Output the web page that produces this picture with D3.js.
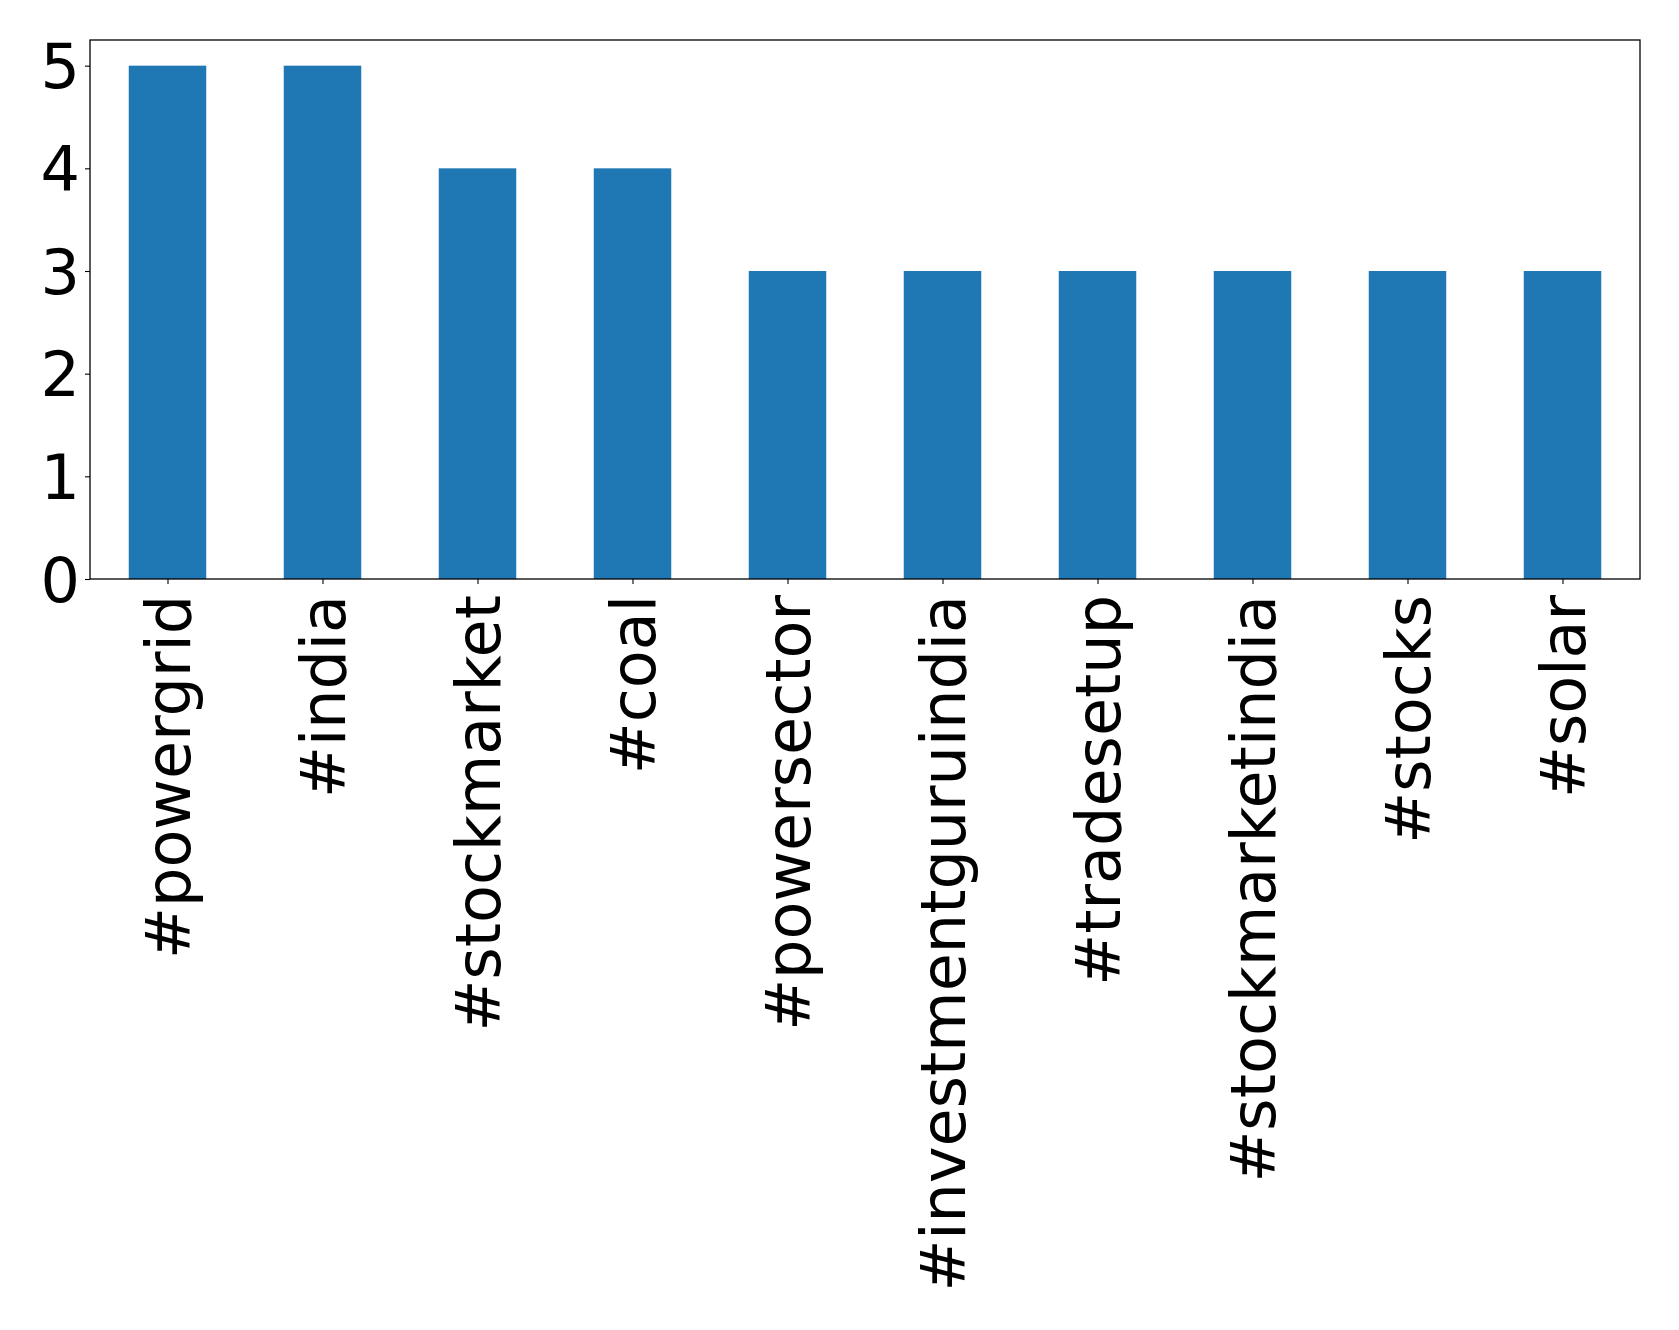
<!DOCTYPE html>
<html><head><meta charset="utf-8">
<script src="https://cdn.jsdelivr.net/npm/d3@7"></script>
<style>body{margin:0;background:#fff}text{font-family:"DejaVu Sans",sans-serif;fill:#000}</style>
</head><body><svg id="c" width="1679" height="1330"></svg>
<script>
const categories = ["#powergrid","#india","#stockmarket","#coal","#powersector","#investmentguruindia","#tradesetup","#stockmarketindia","#stocks","#solar"];
const values = [5,5,4,4,3,3,3,3,3,3];
const yTicks = [0,1,2,3,4,5];

const W=1679,H=1330;
const m={left:90,right:1640,top:40,bottom:579};
const svg=d3.select("#c");
const x=d3.scaleLinear().domain([-0.5,categories.length-0.5]).range([m.left,m.right]);
const y=d3.scaleLinear().domain([0,5.25]).range([m.bottom,m.top]);
const bw=x(0.25)-x(-0.25);
svg.append("g").selectAll("rect").data(values).join("rect")
  .attr("x",(d,i)=>x(i)-bw/2).attr("width",bw)
  .attr("y",d=>y(d)).attr("height",d=>y(0)-y(d)).attr("fill","#1f77b4");
svg.append("rect").attr("x",m.left).attr("y",m.top).attr("width",m.right-m.left).attr("height",m.bottom-m.top)
  .attr("fill","none").attr("stroke","#000").attr("stroke-width",1.3);
const fs=62;
const ya=svg.append("g").attr("transform",`translate(${m.left},0)`)
  .call(d3.axisLeft(y).tickValues(yTicks).tickFormat(d3.format("d")).tickSize(5).tickPadding(5));
ya.select(".domain").remove();
ya.selectAll("line").attr("stroke","#000").attr("stroke-width",1.1);
ya.selectAll("text").attr("font-size",fs).attr("dy","0.36em").attr("font-family","DejaVu Sans");
const xa=svg.append("g").attr("transform",`translate(0,${m.bottom})`)
  .call(d3.axisBottom(x).tickValues(d3.range(categories.length)).tickFormat(i=>categories[i]).tickSize(5).tickPadding(5));
xa.select(".domain").remove();
xa.selectAll("line").attr("stroke","#000").attr("stroke-width",1.1);
xa.selectAll("text").attr("font-size",fs).attr("font-family","DejaVu Sans")
  .attr("text-anchor","end").attr("transform","translate(0,16) rotate(-90)")
  .attr("x",0).attr("y",0).attr("dy","0.36em");
</script></body></html>
